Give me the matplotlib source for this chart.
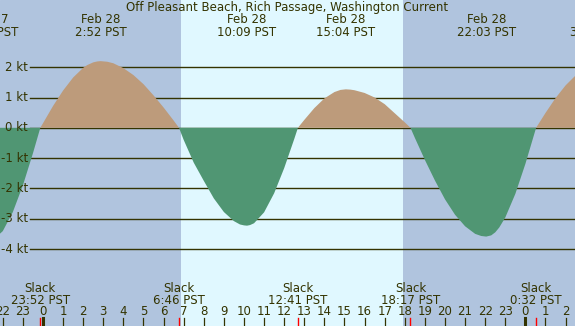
import numpy as np
import matplotlib
matplotlib.use("Agg")
import matplotlib.pyplot as plt

# Current speed in knots (hours since Feb 28 00:00 PST)
hours = [-2.5, -2.0, -1.5, -1.0, -0.5, -0.133, 0.0, 0.5, 1.0, 1.5, 2.0, 2.2, 2.5, 2.7, 2.867,
         3.2, 3.5, 4.0, 4.5, 5.0, 5.5, 6.0, 6.5, 6.767, 7.0, 7.5, 8.0, 8.5, 9.0, 9.5,
         9.8, 10.0, 10.15, 10.3, 10.5, 11.0, 11.5, 12.0, 12.5, 12.683, 13.0, 13.5, 14.0,
         14.5, 14.8, 15.067, 15.3, 15.5, 16.0, 16.5, 17.0, 17.5, 18.0, 18.283, 18.5, 19.0,
         19.5, 20.0, 20.5, 21.0, 21.5, 21.8, 22.05, 22.3, 22.5, 22.7, 23.0, 23.5, 24.0,
         24.533, 25.0, 25.5, 26.0, 26.5, 27.0]
knots = [-3.71, -3.41, -2.78, -1.90, -0.84, 0.0, 0.15, 0.72, 1.23, 1.66, 1.98, 2.07, 2.16, 2.19, 2.20,
         2.18, 2.13, 1.97, 1.74, 1.44, 1.07, 0.67, 0.24, 0.0, -0.40, -1.15, -1.75, -2.33, -2.78, -3.08,
         -3.19, -3.22, -3.23, -3.21, -3.15, -2.79, -2.16, -1.33, -0.37, 0.0, 0.26, 0.65, 0.97,
         1.18, 1.25, 1.27, 1.26, 1.24, 1.15, 1.00, 0.78, 0.48, 0.18, 0.0, -0.33, -1.06,
         -1.74, -2.36, -2.87, -3.25, -3.50, -3.57, -3.59, -3.55, -3.45, -3.29, -2.96, -2.18, -1.19,
         0.0, 0.49, 0.98, 1.40, 1.73, 1.93]

# max current events (top labels)
max_hours = [-2.7, 2.867, 10.15, 15.067, 22.05, 27.5]
max_dates = ["Feb 27", "Feb 28", "Feb 28", "Feb 28", "Feb 28", "Feb 29"]
max_times = ["21:19 PST", "2:52 PST", "10:09 PST", "15:04 PST", "22:03 PST", "3:30 PST"]

# slack water events (bottom labels)
slack_hours = [-0.133, 6.767, 12.683, 18.283, 24.533]
slack_times = ["23:52 PST", "6:46 PST", "12:41 PST", "18:17 PST", "0:32 PST"]

sunrise = 6.87
sunset = 17.92
kt_levels = [2, 1, 0, -1, -2, -3, -4]
hour_ticks = list(range(-2, 27))

night = "#b0c4de"
day = "#e0f8ff"
flood = "#bd9b7b"
ebb = "#509673"
ink = "#333300"

fig = plt.figure(figsize=(5.75, 3.26), dpi=100)
ax = fig.add_axes([0, 0, 1, 1])
ax.set_facecolor(night)
ax.set_xlim(-2.139, 26.468)
ax.set_ylim(-6.541, 4.218)
ax.axis("off")
ax.add_patch(plt.Rectangle((0, 0), 1, 1, transform=ax.transAxes, color=night, zorder=0))
ax.axvspan(sunrise, sunset, color=day, zorder=1, lw=0)

# knot grid lines and labels
for k in kt_levels:
    ax.axhline(k, xmin=30 / 575, xmax=1, color=ink, lw=1.0, zorder=2)
    ax.text(-0.75, k, "%d kt" % k, ha="right", va="center", fontsize=8.5, color=ink, zorder=5)

h = np.array(hours)
v = np.array(knots)
ax.fill_between(h, v, 0, where=v >= 0, interpolate=True, color=flood, lw=0, zorder=3)
ax.fill_between(h, v, 0, where=v <= 0, interpolate=True, color=ebb, lw=0, zorder=3)

tr = ax.get_xaxis_transform()
ax.text(0.5, 0.967, "Off Pleasant Beach, Rich Passage, Washington Current", transform=ax.transAxes,
        ha="center", va="baseline", fontsize=8.5, color=ink, zorder=6)

for t, d, s in zip(max_hours, max_dates, max_times):
    ax.text(t, 0.9285, d, transform=tr, ha="center", va="baseline", fontsize=8.5, color=ink, zorder=6)
    ax.text(t, 0.8905, s, transform=tr, ha="center", va="baseline", fontsize=8.5, color=ink, zorder=6)

for t, s in zip(slack_hours, slack_times):
    ax.text(t, 0.1052, "Slack", transform=tr, ha="center", va="baseline", fontsize=8.5, color=ink, zorder=6)
    ax.text(t, 0.0666, s, transform=tr, ha="center", va="baseline", fontsize=8.5, color=ink, zorder=6)
    ax.plot([t, t], [0, 0.0245], transform=tr, color="red", lw=1.0, zorder=6)

# hour ticks along the bottom
for t in hour_ticks:
    ax.text(t, 0.0337, str(t % 24), transform=tr, ha="center", va="baseline", fontsize=8.5, color=ink, zorder=6)
    ax.plot([t, t], [0, 0.0245], transform=tr, color=ink, lw=2.2 if t % 24 == 0 else 0.9, zorder=6)

fig.savefig("out.png", dpi=100)
